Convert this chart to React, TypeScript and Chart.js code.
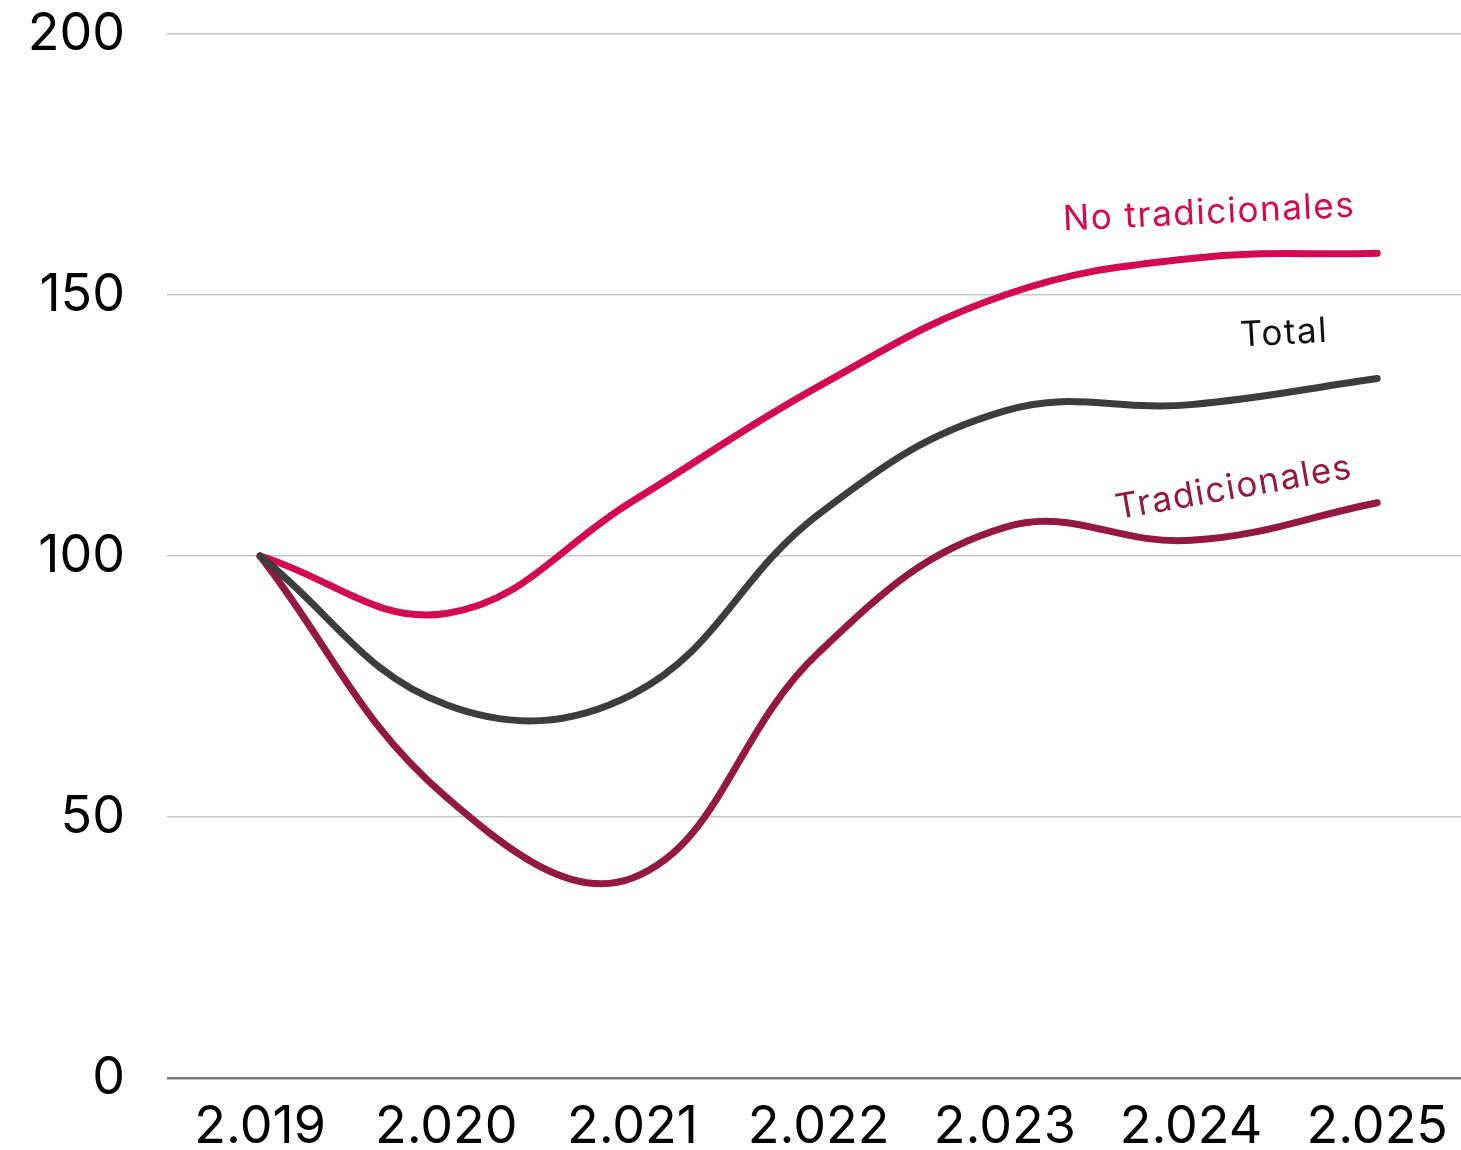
import React, { useEffect, useRef } from "react";
import { Chart, registerables } from "chart.js";

Chart.register(...registerables);

const years = [2019, 2020, 2021, 2022, 2023, 2024, 2025];
const yearLabels = ["2.019", "2.020", "2.021", "2.022", "2.023", "2.024", "2.025"];
const noTradicionales = [100, 89, 110.5, 132.5, 150, 157, 158];
const total = [100, 71.5, 73.5, 108, 127.8, 129, 134];
const tradicionales = [100, 53.8, 38.3, 81.5, 105.5, 103, 110.2];
const yTicks = [0, 50, 100, 150, 200];

const FONT = "Inter, 'Open Sans', sans-serif";

const seriesLabels = [
  { text: "No tradicionales", color: "#d10a52", idx: 5, value: 165.7, dx: 18, angle: -2.7 },
  { text: "Total", color: "#111111", idx: 5, value: 142.6, dx: 93, angle: -3.2 },
  { text: "Tradicionales", color: "#931842", idx: 5, value: 113, dx: 43, angle: -10 },
];

const labelPlugin = {
  id: "seriesLabels",
  afterDatasetsDraw(chart: any) {
    const { ctx, scales } = chart;
    ctx.save();
    ctx.font = `35px ${FONT}`;
    try {
      (ctx as any).letterSpacing = "1.5px";
    } catch (e) {}
    ctx.textAlign = "center";
    ctx.textBaseline = "middle";
    for (const l of seriesLabels) {
      const x = scales.x.getPixelForValue(years[l.idx]) + l.dx;
      const y = scales.y.getPixelForValue(l.value);
      ctx.save();
      ctx.translate(x, y);
      ctx.rotate((l.angle * Math.PI) / 180);
      ctx.fillStyle = l.color;
      ctx.fillText(l.text, 0, 0);
      ctx.restore();
    }
    ctx.restore();
  },
};

export default function App() {
  const ref = useRef<HTMLCanvasElement>(null);
  useEffect(() => {
    document.body.style.margin = "0";
    const mk = (label: string, data: number[], color: string) => ({
      label,
      data: data.map((v, i) => ({ x: years[i], y: v })),
      borderColor: color,
      borderWidth: 7,
      pointRadius: 0,
      tension: 0.4,
      fill: false,
      borderCapStyle: "round" as const,
      borderJoinStyle: "round" as const,
    });
    const chart = new Chart(ref.current!, {
      type: "line",
      data: {
        datasets: [
          mk("Total", total, "#3d3d3d"),
          mk("No tradicionales", noTradicionales, "#d10a52"),
          mk("Tradicionales", tradicionales, "#931842"),
        ],
      },
      options: {
        animation: false,
        responsive: false,
        layout: { padding: 0 },
        plugins: { legend: { display: false }, tooltip: { enabled: false } },
        scales: {
          x: {
            type: "linear",
            min: 2018.5,
            max: 2025.45,
            afterBuildTicks: (s: any) => {
              s.ticks = years.map((v) => ({ value: v }));
            },
            afterFit: (s: any) => {
              s.height = 72;
              s.paddingLeft = 0;
              s.paddingRight = 0;
            },
            grid: { display: false, drawTicks: false },
            border: { display: false },
            ticks: {
              autoSkip: false,
              maxRotation: 0,
              padding: 18,
              color: "#000",
              font: { family: FONT, size: 52 },
              callback: (v: any) => {
                const i = years.indexOf(Number(v));
                return i >= 0 ? yearLabels[i] : "";
              },
            },
          },
          y: {
            min: 0,
            max: 200,
            afterBuildTicks: (s: any) => {
              s.ticks = yTicks.map((v) => ({ value: v }));
            },
            afterFit: (s: any) => {
              s.width = 167;
              s.paddingTop = 34;
              s.paddingBottom = 0;
            },
            grid: {
              drawTicks: false,
              color: (c: any) => (c.tick && c.tick.value === 0 ? "#7a7a7a" : "#c8c8c8"),
              lineWidth: (c: any) => (c.tick && c.tick.value === 0 ? 2.5 : 1.5),
            },
            border: { display: false },
            ticks: {
              padding: 42,
              color: "#000",
              font: { family: FONT, size: 52 },
            },
          },
        },
      },
      plugins: [labelPlugin],
    });
    return () => chart.destroy();
  }, []);
  return <canvas ref={ref} width={1461} height={1150} style={{ display: "block" }} />;
}
